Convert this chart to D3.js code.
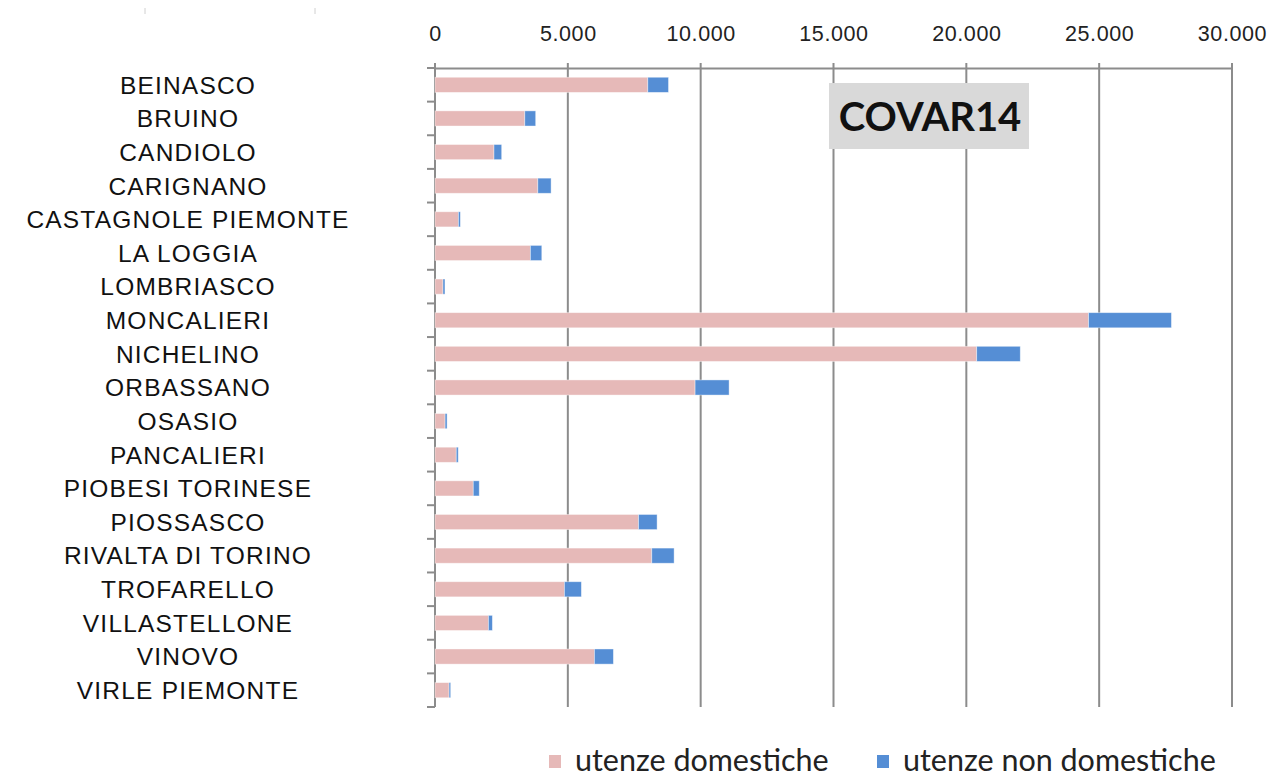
<!DOCTYPE html>
<html>
<head>
<meta charset="utf-8">
<script src="https://cdn.jsdelivr.net/npm/d3@7"></script>
<style>
  body { margin: 0; background: #fff; }
  svg { display: block; }
</style>
</head>
<body>
<svg id="chart" width="1271" height="773"></svg>
<script>
var comuni = ["BEINASCO", "BRUINO", "CANDIOLO", "CARIGNANO", "CASTAGNOLE PIEMONTE",
  "LA LOGGIA", "LOMBRIASCO", "MONCALIERI", "NICHELINO", "ORBASSANO", "OSASIO",
  "PANCALIERI", "PIOBESI TORINESE", "PIOSSASCO", "RIVALTA DI TORINO", "TROFARELLO",
  "VILLASTELLONE", "VINOVO", "VIRLE PIEMONTE"];
var domestiche = [8010, 3380, 2220, 3870, 880, 3590, 300, 24600, 20390, 9790, 380,
  800, 1440, 7660, 8160, 4870, 2010, 6000, 530];
var nonDomestiche = [780, 410, 290, 500, 75, 430, 75, 3120, 1640, 1280, 75,
  75, 225, 700, 840, 640, 150, 715, 60];
var xTicks = [0, 5000, 10000, 15000, 20000, 25000, 30000];
var serie = ["utenze domestiche", "utenze non domestiche"];
var colori = ["#E6B9B8", "#558ED5"];

var svg = d3.select("#chart");
var mLeft = 435, mTop = 68, mRight = 1232, mBottom = 707;

var x = d3.scaleLinear().domain([0, 30000]).range([mLeft, mRight]);
var y = d3.scaleBand().domain(comuni).range([mTop, mBottom]).paddingInner(0.55).paddingOuter(0.275);

var righe = comuni.map(function(c, i) {
  return { comune: c, dom: domestiche[i], nondom: nonDomestiche[i] };
});
var stack = d3.stack().keys(["dom", "nondom"]);
var layers = stack(righe);

// faint marks top left
svg.selectAll(".mark").data([145, 315]).enter().append("line")
  .attr("x1", function(d) { return d; }).attr("x2", function(d) { return d; })
  .attr("y1", 8).attr("y2", 14)
  .attr("stroke", "#d0d0d0").attr("stroke-width", 1);

// grid lines
svg.append("g").selectAll("line").data(xTicks).enter().append("line")
  .attr("x1", function(d) { return x(d); }).attr("x2", function(d) { return x(d); })
  .attr("y1", mTop - 5).attr("y2", mBottom)
  .attr("stroke", "#8c8c8c").attr("stroke-width", 2);

// top axis
var xAxis = d3.axisTop(x).tickValues(xTicks).tickSize(0).tickPadding(0)
  .tickFormat(function(d) { return d3.format(",")(d).replace(/,/g, "."); });
var gx = svg.append("g").attr("transform", "translate(0," + mTop + ")").call(xAxis);
gx.select(".domain").attr("stroke", "#8c8c8c").attr("stroke-width", 2);
gx.selectAll(".tick text")
  .attr("y", -27)
  .attr("dy", 0)
  .style("font-family", "'Liberation Sans', Arial, sans-serif")
  .style("font-size", "21.5px")
  .style("letter-spacing", "0.6px")
  .attr("fill", "#222");

// left axis line and boundary ticks
svg.append("line").attr("x1", mLeft).attr("x2", mLeft).attr("y1", mTop).attr("y2", mBottom)
  .attr("stroke", "#8c8c8c").attr("stroke-width", 2);
var step = y.step();
var confini = d3.range(comuni.length + 1).map(function(i) { return mTop + i * step; });
svg.append("g").selectAll("line").data(confini).enter().append("line")
  .attr("x1", mLeft - 8).attr("x2", mLeft)
  .attr("y1", function(d) { return d; }).attr("y2", function(d) { return d; })
  .attr("stroke", "#8c8c8c").attr("stroke-width", 2);

// category labels, centred but kept inside the left edge
var labels = svg.append("g").selectAll("text").data(comuni).enter().append("text")
  .attr("y", function(d) { return y(d) + y.bandwidth() / 2; })
  .attr("dy", "0.36em")
  .attr("text-anchor", "start")
  .style("font-family", "'Liberation Sans', Arial, sans-serif")
  .style("font-size", "24.5px")
  .style("letter-spacing", "1.2px")
  .attr("fill", "#111")
  .text(function(d) { return d; });
labels.attr("x", function() {
  var w = this.getComputedTextLength();
  return Math.max(12, 188 - w / 2);
});

// bars
svg.append("g").selectAll("g").data(layers).enter().append("g")
  .attr("fill", function(d, i) { return colori[i]; })
  .selectAll("rect").data(function(d) { return d; }).enter().append("rect")
  .attr("x", function(d) { return x(d[0]); })
  .attr("y", function(d) { return y(d.data.comune); })
  .attr("width", function(d) { return x(d[1]) - x(d[0]); })
  .attr("height", y.bandwidth())
  .attr("stroke", "#ffffff").attr("stroke-opacity", 0.5).attr("stroke-width", 0.8);

// title box
var tg = svg.append("g");
tg.append("rect").attr("x", 829).attr("y", 83).attr("width", 200).attr("height", 66)
  .attr("fill", "#D9D9D9");
tg.append("text").attr("x", 930).attr("y", 131).attr("text-anchor", "middle")
  .style("font-family", "Lato, 'Noto Sans', sans-serif")
  .style("font-weight", "bold").style("font-size", "40px")
  .attr("fill", "#111").text("COVAR14");

// legend
var legX = [549, 877];
var lg = svg.append("g").selectAll("g").data(serie).enter().append("g")
  .attr("transform", function(d, i) { return "translate(" + legX[i] + ",0)"; });
lg.append("rect").attr("x", 0).attr("y", 755).attr("width", 12).attr("height", 13)
  .attr("fill", function(d, i) { return colori[i]; });
lg.append("text").attr("x", 26).attr("y", 771)
  .style("font-family", "Lato, 'Noto Sans', sans-serif")
  .style("font-size", "30.5px")
  .attr("fill", "#222")
  .text(function(d) { return d; });
</script>
</body>
</html>
